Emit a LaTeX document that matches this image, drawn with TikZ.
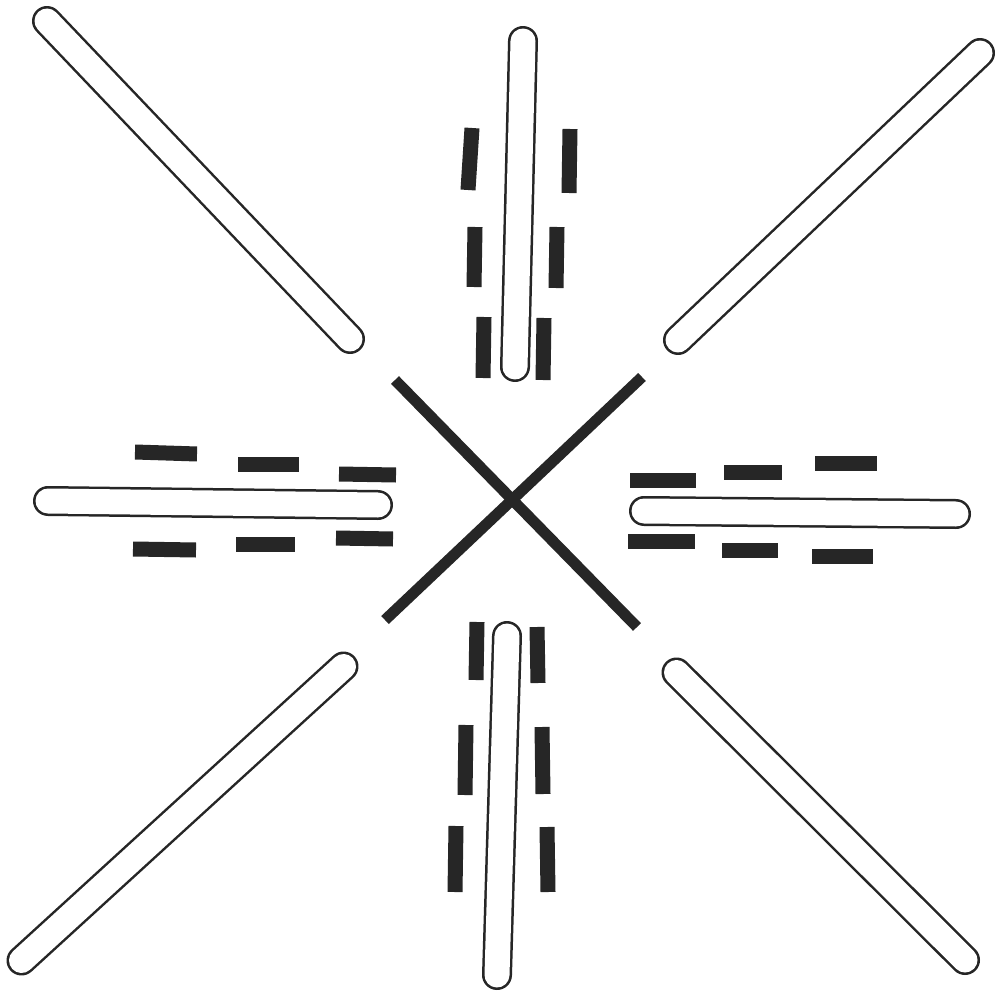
\documentclass[tikz,border=0pt]{standalone}
\begin{document}
\begin{tikzpicture}[x=1pt,y=-1pt,
  rodout/.style={line width=30pt,line cap=round,draw=black!85},
  rodin/.style={line width=25pt,line cap=round,draw=white},
  bar/.style={line width=15pt,line cap=butt,draw=black!85},
  crossline/.style={line width=11pt,line cap=butt,draw=black!85}]
\useasboundingbox[fill=white] (0,0) rectangle (995,992);
% rods: outline then white interior
\foreach \a/\b in {{(523,41)}/{(515,367)}, {(48,501)}/{(378,505)}, {(644,511)}/{(956,514)}, {(507,636)}/{(497,975)},
                   {(47,21)}/{(350,339)}, {(678,340)}/{(980,53)}, {(343.5,666.5)}/{(21.5,960.5)}, {(676.5,672.5)}/{(965,960)}}{
  \draw[rodout] \a -- \b;
  \draw[rodin] \a -- \b;
}
% cross
\draw[crossline] (395,380) -- (637,627);
\draw[crossline] (642,377) -- (385,620);
% bars beside the top rod
\draw[bar] (472,128) -- (468,190);
\draw[bar] (475,227) -- (474,287);
\draw[bar] (484,317) -- (483,378);
\draw[bar] (570,129) -- (569,193);
\draw[bar] (557,227) -- (556,288);
\draw[bar] (544,318) -- (543,380);
% bars beside the left rod
\draw[bar] (135,452) -- (197,454);
\draw[bar] (238,464) -- (299,464);
\draw[bar] (339,474) -- (396,475);
\draw[bar] (133,549) -- (196,550);
\draw[bar] (236,544) -- (295,544);
\draw[bar] (336,538) -- (393,539);
% bars beside the right rod
\draw[bar] (630,480) -- (696,480);
\draw[bar] (724,472) -- (782,472);
\draw[bar] (815,463) -- (877,463);
\draw[bar] (628,541) -- (695,541);
\draw[bar] (722,550) -- (778,550);
\draw[bar] (812,556.5) -- (873,556.5);
% bars beside the bottom rod
\draw[bar] (477,622) -- (476,680);
\draw[bar] (466,725) -- (465,795);
\draw[bar] (456,826) -- (455,892);
\draw[bar] (537,627) -- (538,683);
\draw[bar] (542,727) -- (543,794);
\draw[bar] (547,827) -- (548,892);
\end{tikzpicture}
\end{document}
